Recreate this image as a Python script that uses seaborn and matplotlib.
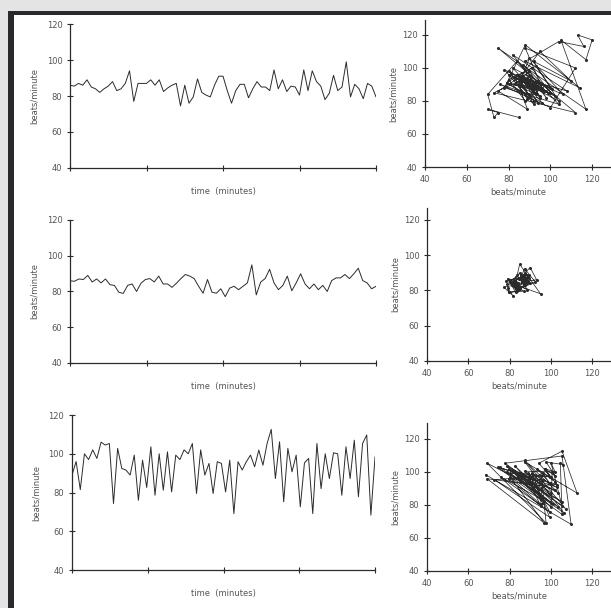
import numpy as np
import pandas as pd
import matplotlib
matplotlib.use("Agg")
import matplotlib.pyplot as plt
from matplotlib.patches import Rectangle
import seaborn as sns

# heart rate series (beats/minute), equally spaced samples
hr_1 = [86, 85.5, 87, 86, 89, 85, 84, 82, 84, 85.5, 88, 83, 84, 87, 94, 77, 87, 87, 87, 89,
        86, 89, 82.5, 84.5, 86, 87, 74.5, 86, 76, 79.5, 89.5, 82, 80.5, 79.5, 86, 91, 91, 83,
        76, 83, 86.5, 86.5, 79, 84, 88, 85, 85, 83, 94.5, 84, 89, 82.5, 85.5, 85, 80.5, 94.5,
        83, 94, 88, 85.5, 78, 81.5, 91.5, 83, 85, 99, 79.5, 86.5, 84, 78.5, 87, 85.5, 79.5]

hr_2 = [86, 85.7, 87, 86.7, 89, 85.3, 87, 84.8, 87, 83.8, 83.4, 79.6, 78.9, 83.4, 84.2, 80,
        84.6, 86.7, 87.2, 85.3, 88.6, 84.2, 84.2, 82.3, 84.6, 87.2, 89.5, 88.6, 87.2, 82.9, 79,
        86.7, 79.6, 79, 81.5, 77.1, 81.9, 82.9, 81, 82.9, 84.8, 94.9, 78.1, 85.3, 87.2, 92.4,
        84.8, 81, 83.4, 88.6, 80.4, 84.8, 89.9, 84.2, 81.5, 84.2, 81, 83.4, 80, 86.1, 87.6,
        87.6, 89.5, 87.2, 89.9, 93, 86.1, 84.8, 81.5, 82.9]

hr_3 = [89, 96, 81.5, 100, 97, 102, 97.6, 106, 104.5, 105.3, 74.3, 102.8, 92.4, 91.6, 89,
        99.3, 76, 96.7, 82.6, 103.6, 78.6, 100, 81.2, 101, 80.3, 99.3, 97, 102, 100, 105.3,
        79.5, 102, 89, 95, 79.5, 95.9, 95, 80.3, 96.7, 69.1, 95.9, 91.6, 95.9, 99.3, 93.3,
        101.9, 94.1, 105.3, 112.6, 87.2, 106.2, 75.2, 102.8, 90.7, 99.3, 72.6, 95.3, 97.6,
        69.1, 105.3, 82, 100, 87.2, 100.5, 100, 78.6, 103.6, 87.2, 107, 77.8, 105.3, 109.7,
        68.3, 98.4]

# beat series behind the first return map
map_1 = [85, 70, 75, 73, 70, 84, 104, 78, 88, 114, 88, 104, 116, 113, 120, 117, 105, 117,
         75, 112, 73, 85, 92, 80, 98, 86, 90, 95, 82, 100, 88, 93, 84, 96, 79, 91, 87, 102,
         83, 94, 89, 81, 97, 86, 92, 78, 99, 85, 90, 106, 84, 96, 88, 80, 93, 101, 87, 95,
         83, 90, 98, 82, 108, 86, 94, 79, 91, 100, 85, 89, 75, 86, 95, 110, 92, 104, 80,
         96, 88, 112, 100, 76, 90, 84]

series = [hr_1, hr_2, hr_3]
maps = [map_1, hr_2, hr_3]

bpm_ticks = [40, 60, 80, 100, 120]

ink = "#2b2b2b"
txt = "#555555"

sns.set_style("ticks")
plt.rcParams["font.family"] = ["DejaVu Sans"]
plt.rcParams["font.size"] = 6

fig = plt.figure(figsize=(6.11, 6.08), dpi=100)
fig.patch.set_facecolor("#e4e4e4")

# scanned page frame
fig.add_artist(Rectangle((0.023, 0.0), 0.977, 0.977, transform=fig.transFigure,
                         facecolor="white", edgecolor="none", zorder=-2))
fig.add_artist(Rectangle((0.013, 0.0), 0.01, 0.982, transform=fig.transFigure,
                         facecolor="#2a2a2e", edgecolor="none", zorder=-1))
fig.add_artist(Rectangle((0.013, 0.975), 0.987, 0.007, transform=fig.transFigure,
                         facecolor="#2a2a2e", edgecolor="none", zorder=-1))

# axes boxes: [time series], [return map]
ts_boxes = [[0.1146, 0.7237, 0.5008, 0.2368],
            [0.1146, 0.4030, 0.5008, 0.2352],
            [0.1178, 0.0625, 0.4960, 0.2549]]
map_boxes = [[0.6956, 0.7253, 0.3044, 0.2417],
             [0.6989, 0.4063, 0.3011, 0.2516],
             [0.6989, 0.0609, 0.3011, 0.2434]]
map_xlim = [129, 129, 129]
map_ylim = [129, 126.8, 129.7]


def style_axes(ax):
    sns.despine(ax=ax)
    for s in ["left", "bottom"]:
        ax.spines[s].set_color(ink)
        ax.spines[s].set_linewidth(0.9)
    ax.tick_params(direction="inout", length=5, width=0.8, color=ink,
                   labelcolor=txt, labelsize=6, pad=3)
    ax.set_facecolor("none")


for i in range(3):
    y = series[i]
    df = pd.DataFrame({"t": np.arange(len(y)), "bpm": y})
    ax = fig.add_axes(ts_boxes[i])
    sns.lineplot(data=df, x="t", y="bpm", ax=ax, color=ink, linewidth=0.7,
                 sort=False, estimator=None)
    n = len(y) - 1
    ax.set_xlim(0, n)
    ax.set_ylim(40, 120)
    ax.set_xticks(np.linspace(0, n, 5))
    ax.set_xticklabels([])
    ax.set_yticks(bpm_ticks)
    ax.set_xlabel("time  (minutes)", color=txt, fontsize=6, labelpad=8)
    ax.set_ylabel("beats/minute", color=txt, fontsize=6, labelpad=6)
    style_axes(ax)

    # return map: beat n against beat n+1
    m = maps[i]
    mdf = pd.DataFrame({"prev": m[:-1], "next": m[1:]})
    ax2 = fig.add_axes(map_boxes[i])
    sns.lineplot(data=mdf, x="prev", y="next", ax=ax2, color=ink, linewidth=0.55,
                 sort=False, estimator=None, marker="o", markersize=2.2,
                 markeredgewidth=0)
    ax2.set_xlim(40, map_xlim[i])
    ax2.set_ylim(40, map_ylim[i])
    ax2.set_xticks(bpm_ticks)
    ax2.set_yticks(bpm_ticks)
    ax2.set_xlabel("beats/minute", color=txt, fontsize=6, labelpad=3)
    ax2.set_ylabel("beats/minute", color=txt, fontsize=6, labelpad=3)
    style_axes(ax2)

fig.savefig("out.png", dpi=100)
